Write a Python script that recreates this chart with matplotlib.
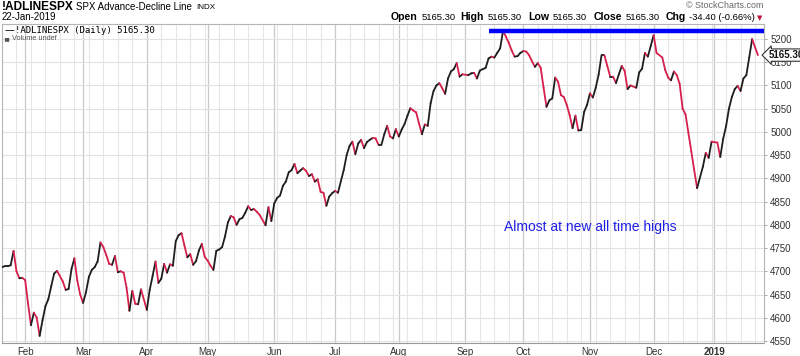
import numpy as np
import pandas as pd
import matplotlib
matplotlib.use("Agg")
import matplotlib.pyplot as plt
from matplotlib.collections import LineCollection

plt.rcParams['font.family'] = ['Liberation Sans', 'DejaVu Sans']

# chart span and market holidays (no bar on these weekdays)
start_date = '2018-01-22'
end_date = '2019-01-22'
holidays = ['2018-02-19', '2018-03-30', '2018-05-28', '2018-07-04', '2018-09-03',
            '2018-11-22', '2018-12-05', '2018-12-25', '2019-01-01', '2019-01-21']

# daily closes of !ADLINESPX, one list per month
jan18 = [4709, 4711, 4711, 4713, 4744, 4700, 4685, 4686]
feb18 = [4681, 4630, 4584, 4611, 4600, 4561, 4595, 4625, 4640, 4668, 4695, 4701,
         4678, 4660, 4662, 4705, 4728, 4680, 4650]
mar18 = [4632, 4655, 4688, 4703, 4709, 4721, 4762, 4752, 4735, 4716, 4714, 4733,
         4698, 4700, 4697, 4665, 4615, 4658, 4630, 4629, 4661]
apr18 = [4617, 4660, 4690, 4721, 4675, 4684, 4716, 4697, 4715, 4712, 4765, 4778,
         4782, 4755, 4730, 4737, 4714, 4722, 4745, 4759, 4731]
may18 = [4723, 4712, 4703, 4744, 4747, 4752, 4775, 4805, 4819, 4816, 4800, 4812,
         4815, 4826, 4840, 4832, 4834, 4828, 4821, 4799, 4838, 4808]
jun18 = [4846, 4858, 4863, 4884, 4893, 4913, 4918, 4931, 4911, 4917, 4922, 4916,
         4905, 4909, 4893, 4898, 4871, 4869, 4841, 4861, 4868]
jul18 = [4873, 4869, 4918, 4950, 4970, 4979, 4952, 4975, 4983, 4965, 4978, 4983,
         4987, 4986, 4972, 4972, 4995, 5013, 4990, 4986, 5006]
aug18 = [4990, 5005, 5017, 5035, 5051, 5046, 5042, 5018, 4995, 5016, 5013, 5062,
         5088, 5100, 5105, 5094, 5082, 5115, 5130, 5135, 5148, 5119, 5124]
sep18 = [5122, 5126, 5127, 5115, 5132, 5135, 5138, 5158, 5162, 5160, 5170, 5180,
         5217, 5205, 5191, 5175, 5162, 5163, 5170]
oct18 = [5174, 5173, 5165, 5152, 5140, 5148, 5138, 5095, 5054, 5068, 5072, 5117,
         5108, 5079, 5075, 5058, 5036, 5008, 5035, 5003, 5004, 5043, 5058]
nov18 = [5083, 5074, 5095, 5123, 5165, 5165, 5142, 5119, 5119, 5105, 5124, 5142,
         5131, 5092, 5100, 5095, 5128, 5136, 5170, 5162, 5185]
dec18 = [5208, 5170, 5160, 5133, 5117, 5111, 5130, 5122, 5103, 5050, 5038, 4998,
         4958, 4918, 4879, 4925, 4955, 4944, 4979]
jan19 = [4977, 4946, 4985, 5012, 5050, 5075, 5092, 5099, 5088, 5115, 5122, 5160,
         5199.70, 5165.30]

y_ticks = list(range(4550, 5201, 50))
month_names = ['Jan', 'Feb', 'Mar', 'Apr', 'May', 'Jun', 'Jul', 'Aug', 'Sep',
               'Oct', 'Nov', 'Dec']
note = 'Almost at new all time highs'
high_line_from = '2018-09-13'

up_color = '#1e1e1e'
down_color = '#d61f4b'

# x axis: one slot per weekday, holidays leave an empty slot
weekdays = pd.bdate_range(start_date, end_date)
trading = ~weekdays.isin(pd.to_datetime(holidays))
x = np.arange(len(weekdays))[trading]
y = np.array(jan18 + feb18 + mar18 + apr18 + may18 + jun18 + jul18 + aug18 +
             sep18 + oct18 + nov18 + dec18 + jan19, dtype=float)

month_starts = [i for i in range(1, len(weekdays))
                if weekdays[i].month != weekdays[i - 1].month]
mondays = [i for i, d in enumerate(weekdays) if d.weekday() == 0]

fig = plt.figure(figsize=(8, 3.56), dpi=100)
ax = fig.add_axes([2 / 800, 13 / 356, 762 / 800, 319 / 356])

# up days black, down days red
pts = np.column_stack([x, y])
segs = np.stack([pts[:-1], pts[1:]], axis=1)
cols = np.where(np.diff(y) >= 0, up_color, down_color)
ax.add_collection(LineCollection(segs, colors=cols, linewidths=1.3,
                                 capstyle='round', joinstyle='round', zorder=3))

ax.set_xlim(1 / 2.9, 763 / 2.9)
ax.set_ylim(4545.7, 5232.2)

# grid
ax.set_yticks(y_ticks)
ax.set_xticks(month_starts)
ax.set_xticks(mondays, minor=True)
ax.grid(axis='y', color='#e2e2e2', lw=0.8)
ax.grid(axis='x', which='minor', color='#e6e6e6', lw=0.8)
ax.grid(axis='x', which='major', color='#c9c9c9', lw=0.9)
ax.set_axisbelow(True)

ax.yaxis.tick_right()
ax.tick_params(axis='y', length=2.5, width=0.6, color='#999999', pad=2,
               labelsize=7, labelcolor='#333333')
ax.tick_params(axis='x', which='both', length=0, pad=3, labelsize=7,
               labelcolor='#333333')
labels = []
for i in month_starts:
    m = weekdays[i].month
    labels.append(str(weekdays[i].year) if m == 1 else month_names[m - 1])
ax.set_xticklabels(labels)
for t, i in zip(ax.get_xticklabels(), month_starts):
    if weekdays[i].month == 1:
        t.set_fontweight('bold')

for s in ['left', 'top', 'right']:
    ax.spines[s].set_color('#b5b5b5')
    ax.spines[s].set_linewidth(0.8)
ax.spines['bottom'].set_color('#999999')
ax.spines['bottom'].set_linestyle((0, (1, 1)))
ax.spines['bottom'].set_linewidth(0.8)

# horizontal line at the high
line_start = weekdays.get_loc(pd.Timestamp(high_line_from))
ax.hlines(y.max(), line_start, ax.get_xlim()[1], color='#0000ff', lw=3.2, zorder=4)

ax.text(0.659, 0.365, note, transform=ax.transAxes, color='#1f1fe6',
        fontsize=10, ha='left', va='center')

# last value flag on the price axis
ax.text(1.006, y[-1], f'{y[-1]:.2f}', transform=ax.get_yaxis_transform(),
        ha='left', va='center', fontsize=7, fontweight='bold', color='#111111',
        zorder=6, clip_on=False,
        bbox=dict(boxstyle='larrow,pad=0.12', fc='white', ec='#333333', lw=0.8))


def px(xp, yp):
    return xp / 800, 1 - yp / 356


# header
fig.text(*px(2, 7), '!ADLINESPX', fontsize=8.6, fontweight='bold', va='center')
fig.text(*px(76, 7), 'SPX Advance-Decline Line', fontsize=7, va='center')
fig.text(*px(196, 7.5), 'INDX', fontsize=5.8, va='center')
fig.text(*px(2, 17), '22-Jan-2019', fontsize=7, va='center')
fig.text(*px(763, 5), '\u00a9 StockCharts.com', fontsize=6.4, color='#666666',
         ha='right', va='center')

quote = [(391, 'Open', True), (422, '5165.30', False), (460, 'High', True),
         (488, '5165.30', False), (528, 'Low', True), (553, '5165.30', False),
         (594, 'Close', True), (626, '5165.30', False), (666, 'Chg', True),
         (689, '-34.40 (-0.66%)', False)]
for xp, s, bold in quote:
    fig.text(*px(xp, 17.5), s, fontsize=7.6 if bold else 6.8,
             fontweight='bold' if bold else 'normal', va='center')
fig.text(*px(759.5, 18.5), '\u25bc', fontsize=5, color='#c0143c', ha='center',
         va='center', family='DejaVu Sans')

# legend inside the plot
fig.text(*px(5, 30.5), '\u2014', fontsize=7, va='center', family='DejaVu Sans')
fig.text(*px(15, 30.5), '!ADLINESPX (Daily) 5165.30', fontsize=6.5, va='center',
         family='DejaVu Sans Mono')
fig.text(*px(4.5, 38.5), '\u2585', fontsize=4, color='#555555',
         va='center', family='DejaVu Sans')
fig.text(*px(11.5, 38.5), 'Volume undef', fontsize=5.3, color='#555555',
         va='center')

fig.savefig('out.png', dpi=100)
